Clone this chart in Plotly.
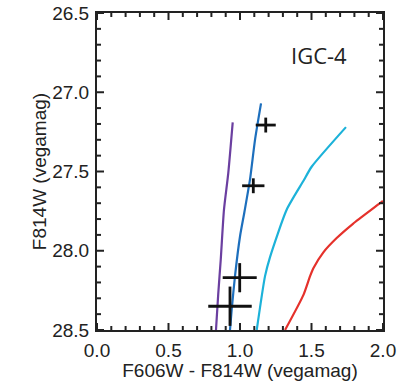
import plotly.graph_objects as go

# Isochrone tracks (color, magnitude)
purple_x = [0.949, 0.918, 0.888, 0.865, 0.848, 0.832]
purple_y = [27.19, 27.51, 27.74, 28.06, 28.27, 28.50]

blue_x = [1.147, 1.105, 1.070, 1.030, 1.000, 0.965, 0.942, 0.930]
blue_y = [27.07, 27.30, 27.55, 27.76, 27.91, 28.16, 28.37, 28.50]

cyan_x = [1.741, 1.501, 1.443, 1.327, 1.210, 1.175, 1.117]
cyan_y = [27.22, 27.47, 27.56, 27.74, 28.04, 28.16, 28.50]

red_x = [1.999, 1.979, 1.790, 1.676, 1.583, 1.513, 1.490, 1.443, 1.315]
red_y = [27.685, 27.70, 27.83, 27.92, 28.01, 28.11, 28.16, 28.28, 28.50]

# Data points with errors
pt_x = [1.180, 1.093, 0.998, 0.930]
pt_y = [27.207, 27.59, 28.17, 28.35]
pt_ex = [0.070, 0.078, 0.119, 0.152]
pt_ey = [0.047, 0.047, 0.092, 0.124]

# Tick positions
x_major = [0.0, 0.5, 1.0, 1.5, 2.0]
y_major = [26.5, 27.0, 27.5, 28.0, 28.5]
x_minor = [0.1, 0.2, 0.3, 0.4, 0.6, 0.7, 0.8, 0.9, 1.1, 1.2, 1.3, 1.4, 1.6, 1.7, 1.8, 1.9]
y_minor = [26.6, 26.7, 26.8, 26.9, 27.1, 27.2, 27.3, 27.4, 27.6, 27.7, 27.8, 27.9,
           28.1, 28.2, 28.3, 28.4]

W, H = 397, 381
ML, MR, MT, MB = 97, 14, 13, 51
PW, PH = W - ML - MR, H - MT - MB

fig = go.Figure()
for xs, ys, col in [(purple_x, purple_y, "#6b3fa0"), (blue_x, blue_y, "#1d6fbd"),
                    (cyan_x, cyan_y, "#1cb2d9"), (red_x, red_y, "#e5312b")]:
    fig.add_trace(go.Scatter(x=xs, y=ys, mode="lines",
                             line=dict(color=col, width=2.2, shape="spline", smoothing=0.6)))

fig.add_trace(go.Scatter(
    x=pt_x, y=pt_y, mode="markers", marker=dict(size=1, color="#111"),
    error_x=dict(type="data", array=pt_ex, color="#111", thickness=2.8, width=0),
    error_y=dict(type="data", array=pt_ey, color="#111", thickness=2.8, width=0)))

fig.add_annotation(x=1.55, y=26.765, text="IGC-4", showarrow=False,
                   font=dict(size=22, color="#222"), xref="x", yref="y")

# Inward frame tick marks on all four sides
tick_line = dict(color="#222", width=2)
for vals, plen in [(x_major, 7), (x_minor, 4)]:
    f = plen / PH
    for v in vals:
        fig.add_shape(type="line", xref="x", yref="paper", x0=v, x1=v, y0=0, y1=f, line=tick_line)
        fig.add_shape(type="line", xref="x", yref="paper", x0=v, x1=v, y0=1, y1=1 - f, line=tick_line)
for vals, plen in [(y_major, 7), (y_minor, 4)]:
    f = plen / PW
    for v in vals:
        fig.add_shape(type="line", xref="paper", yref="y", x0=0, x1=f, y0=v, y1=v, line=tick_line)
        fig.add_shape(type="line", xref="paper", yref="y", x0=1, x1=1 - f, y0=v, y1=v, line=tick_line)

font_family = "Liberation Sans, Arial, sans-serif"
axis_common = dict(showgrid=False, zeroline=False, showline=True, linecolor="#222",
                   linewidth=2, mirror=True, ticks="", tickformat=".1f",
                   automargin=False, ticklabelstandoff=2,
                   tickfont=dict(size=19, color="#222", family=font_family))

fig.update_layout(
    xaxis=dict(range=[0, 2.0], tickmode="array", tickvals=x_major,
               title=dict(text="F606W - F814W (vegamag)",
                          font=dict(size=19, color="#222", family=font_family)),
               **axis_common),
    yaxis=dict(range=[28.5, 26.5], tickmode="array", tickvals=y_major,
               title=dict(text="F814W (vegamag)",
                          font=dict(size=19, color="#222", family=font_family)),
               **axis_common),
    template="none", width=W, height=H, showlegend=False,
    margin=dict(l=ML, r=MR, t=MT, b=MB),
    plot_bgcolor="white", paper_bgcolor="white", hovermode=False)

fig.write_html("out.html")
